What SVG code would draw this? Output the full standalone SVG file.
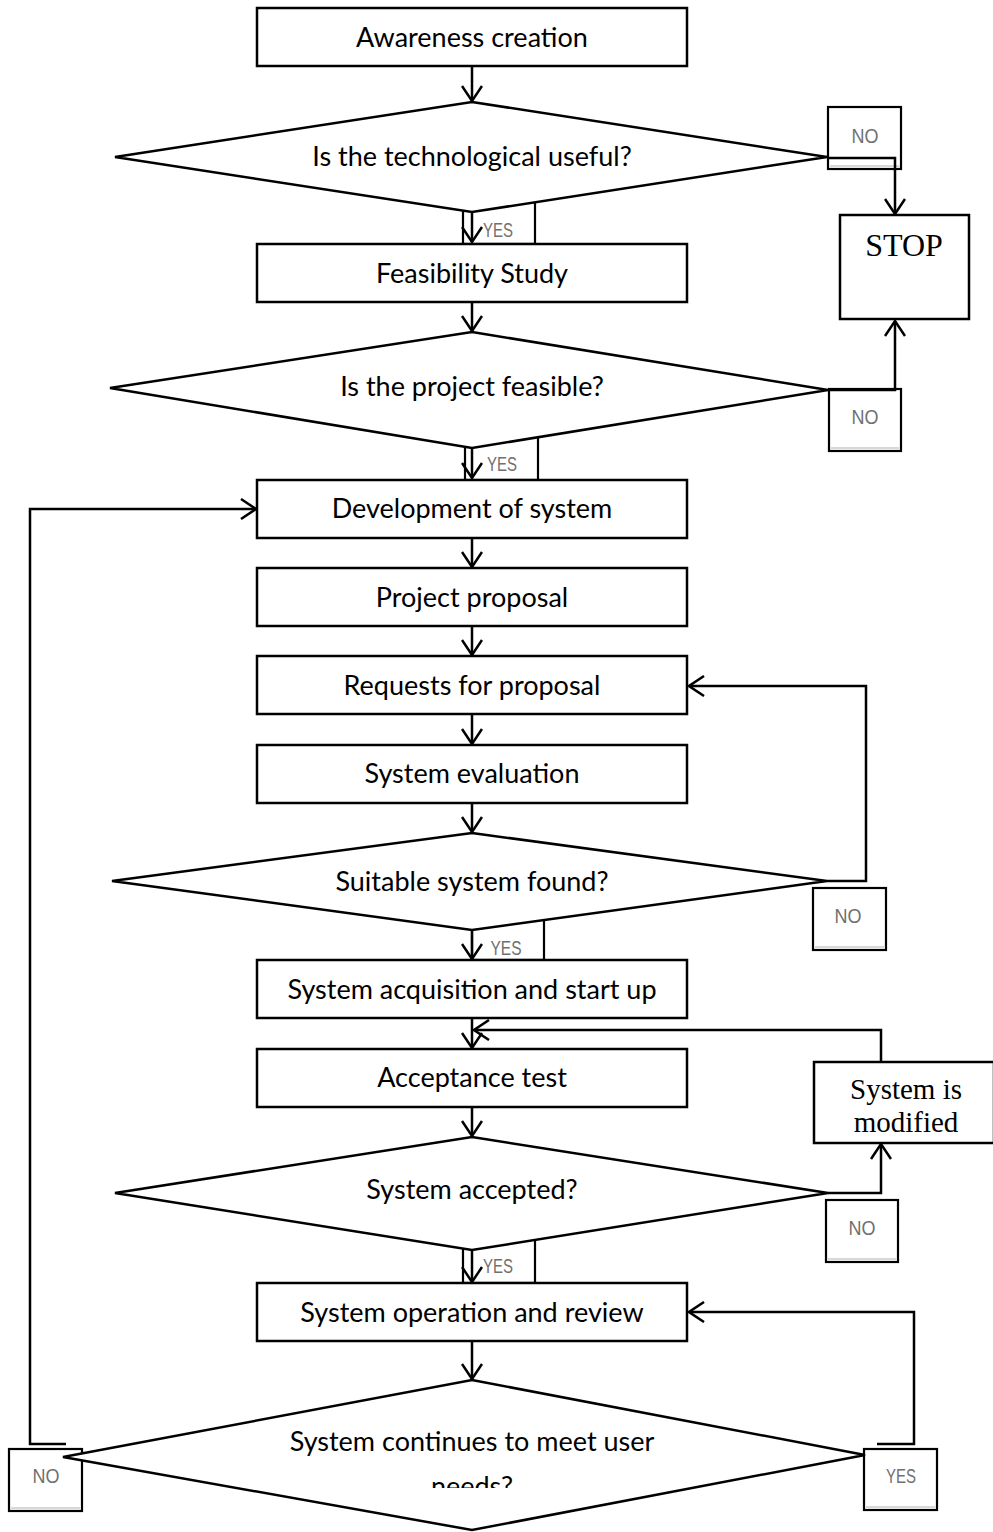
<svg xmlns="http://www.w3.org/2000/svg" width="993" height="1532" viewBox="0 0 993 1532">
  <style>
    .box { fill: #fff; stroke: #000; stroke-width: 2.5; }
    .dia { fill: #fff; stroke: #000; stroke-width: 2.5; stroke-linejoin: miter; }
    .tag { fill: #fff; stroke: #000; stroke-width: 2.2; }
    .tagshade { stroke: #d8d8d8; stroke-width: 2; }
    .txt { font-family: Lato, "Open Sans", "Liberation Sans", sans-serif; font-size: 27px; fill: #000; text-anchor: middle; }
    .serif { font-family: "Liberation Serif", "Times New Roman", serif; fill: #000; text-anchor: middle; }
    .lbl { font-family: "Liberation Sans", Arial, sans-serif; font-size: 21px; fill: #707070; text-anchor: middle; }
    .wire { fill: none; stroke: #000; stroke-width: 2.5; }
  </style>
  <defs>
    <marker id="arrow" viewBox="0 0 18 22" refX="16" refY="11" markerWidth="18" markerHeight="22" markerUnits="userSpaceOnUse" orient="auto">
      <path d="M1,1 L16,11 L1,21" fill="none" stroke="#000" stroke-width="2.5"/>
    </marker>
    <clipPath id="clipBottom">
      <rect x="0" y="0" width="993" height="1488"/>
    </clipPath>
  </defs>

  <!-- decision branch tags (drawn first so the diamonds overlap their tops) -->
  <g id="tags">
    <g id="tag-yes1"><rect class="tag" x="463" y="195" width="72" height="49"/></g>
    <g id="tag-yes2"><rect class="tag" x="465" y="430" width="73" height="50"/></g>
    <g id="tag-yes3"><rect class="tag" x="472" y="912" width="72" height="48"/></g>
    <g id="tag-yes4"><rect class="tag" x="463" y="1230" width="72" height="53"/></g>
    <g id="tag-no1"><rect class="tag" x="828" y="107" width="73" height="62"/><line class="tagshade" x1="830" y1="166" x2="899" y2="166"/></g>
    <g id="tag-no2"><rect class="tag" x="829" y="389" width="72" height="62"/><line class="tagshade" x1="831" y1="448" x2="899" y2="448"/></g>
    <g id="tag-no3"><rect class="tag" x="813" y="888" width="73" height="62"/><line class="tagshade" x1="815" y1="947" x2="884" y2="947"/></g>
    <g id="tag-no4"><rect class="tag" x="826" y="1200" width="72" height="62"/><line class="tagshade" x1="828" y1="1259" x2="896" y2="1259"/></g>
    <g id="tag-no5"><rect class="tag" x="9" y="1449" width="73" height="62"/><line class="tagshade" x1="11" y1="1508" x2="80" y2="1508"/></g>
    <g id="tag-yes5"><rect class="tag" x="864" y="1449" width="73" height="61"/><line class="tagshade" x1="866" y1="1507" x2="935" y2="1507"/></g>
  </g>

  <!-- process boxes and decisions -->
  <g id="n-awareness"><rect class="box" x="257" y="8" width="430" height="58"/><text class="txt" x="472" y="47">Awareness creation</text></g>
  <g id="d-useful"><polygon class="dia" points="472,102 827,157 472,212 115,157"/><text class="txt" x="472" y="166">Is the technological useful?</text></g>
  <g id="n-feasibility"><rect class="box" x="257" y="244" width="430" height="58"/><text class="txt" x="472" y="283">Feasibility Study</text></g>
  <g id="d-feasible"><polygon class="dia" points="472,332 828,390 472,448 110,388"/><text class="txt" x="472" y="396">Is the project feasible?</text></g>
  <g id="n-stop"><rect class="box" x="840" y="215" width="129" height="104"/><text class="serif" x="904" y="256" font-size="32">STOP</text></g>
  <g id="n-development"><rect class="box" x="257" y="480" width="430" height="58"/><text class="txt" x="472" y="518">Development of system</text></g>
  <g id="n-proposal"><rect class="box" x="257" y="568" width="430" height="58"/><text class="txt" x="472" y="607">Project proposal</text></g>
  <g id="n-requests"><rect class="box" x="257" y="656" width="430" height="58"/><text class="txt" x="472" y="695">Requests for proposal</text></g>
  <g id="n-evaluation"><rect class="box" x="257" y="745" width="430" height="58"/><text class="txt" x="472" y="783">System evaluation</text></g>
  <g id="d-suitable"><polygon class="dia" points="472,833 827,881 472,930 112,881"/><text class="txt" x="472" y="891">Suitable system found?</text></g>
  <g id="n-acquisition"><rect class="box" x="257" y="960" width="430" height="58"/><text class="txt" x="472" y="999">System acquisition and start up</text></g>
  <g id="n-acceptance"><rect class="box" x="257" y="1049" width="430" height="58"/><text class="txt" x="472" y="1087">Acceptance test</text></g>
  <g id="n-modified"><rect class="box" x="814" y="1062" width="180" height="81"/><text class="serif" x="906" y="1099" font-size="29">System is</text><text class="serif" x="906" y="1132" font-size="29">modified</text></g>
  <g id="d-accepted"><polygon class="dia" points="472,1137 828,1193 472,1250 115,1193"/><text class="txt" x="472" y="1199">System accepted?</text></g>
  <g id="n-operation"><rect class="box" x="257" y="1283" width="430" height="58"/><text class="txt" x="472" y="1322">System operation and review</text></g>
  <g id="d-continues"><polygon class="dia" points="472,1380 865,1455 472,1530 63,1457"/>
    <text class="txt" x="472" y="1451">System continues to meet user</text>
    <text class="txt" x="472" y="1496" clip-path="url(#clipBottom)">needs?</text>
  </g>

  <!-- connectors -->
  <g id="connectors">
    <line class="wire" x1="472" y1="66" x2="472" y2="101" marker-end="url(#arrow)"/>
    <line class="wire" x1="472" y1="212" x2="472" y2="242" marker-end="url(#arrow)"/>
    <line class="wire" x1="472" y1="302" x2="472" y2="331" marker-end="url(#arrow)"/>
    <line class="wire" x1="472" y1="448" x2="472" y2="478" marker-end="url(#arrow)"/>
    <line class="wire" x1="472" y1="538" x2="472" y2="567" marker-end="url(#arrow)"/>
    <line class="wire" x1="472" y1="626" x2="472" y2="655" marker-end="url(#arrow)"/>
    <line class="wire" x1="472" y1="714" x2="472" y2="744" marker-end="url(#arrow)"/>
    <line class="wire" x1="472" y1="803" x2="472" y2="832" marker-end="url(#arrow)"/>
    <line class="wire" x1="472" y1="930" x2="472" y2="959" marker-end="url(#arrow)"/>
    <line class="wire" x1="472" y1="1018" x2="472" y2="1048" marker-end="url(#arrow)"/>
    <line class="wire" x1="472" y1="1107" x2="472" y2="1136" marker-end="url(#arrow)"/>
    <line class="wire" x1="472" y1="1250" x2="472" y2="1282" marker-end="url(#arrow)"/>
    <line class="wire" x1="472" y1="1341" x2="472" y2="1379" marker-end="url(#arrow)"/>
    <!-- NO / YES branches -->
    <polyline class="wire" points="827,158 895,158 895,214" marker-end="url(#arrow)"/>
    <polyline class="wire" points="828,390 895,390 895,321" marker-end="url(#arrow)"/>
    <polyline class="wire" points="827,881 866,881 866,686 689,686" marker-end="url(#arrow)"/>
    <polyline class="wire" points="828,1193 881,1193 881,1144" marker-end="url(#arrow)"/>
    <polyline class="wire" points="881,1062 881,1030 474,1030" marker-end="url(#arrow)"/>
    <polyline class="wire" points="66,1444 30,1444 30,509 256,509" marker-end="url(#arrow)"/>
    <polyline class="wire" points="877,1444 914,1444 914,1312 689,1312" marker-end="url(#arrow)"/>
  </g>

  <!-- branch labels -->
  <g id="labels">
    <text class="lbl" x="498" y="237" textLength="30" lengthAdjust="spacingAndGlyphs">YES</text>
    <text class="lbl" x="502" y="471" textLength="30" lengthAdjust="spacingAndGlyphs">YES</text>
    <text class="lbl" x="506" y="955" textLength="31" lengthAdjust="spacingAndGlyphs">YES</text>
    <text class="lbl" x="498" y="1273" textLength="30" lengthAdjust="spacingAndGlyphs">YES</text>
    <text class="lbl" x="865" y="143" textLength="27" lengthAdjust="spacingAndGlyphs">NO</text>
    <text class="lbl" x="865" y="424" textLength="27" lengthAdjust="spacingAndGlyphs">NO</text>
    <text class="lbl" x="848" y="923" textLength="27" lengthAdjust="spacingAndGlyphs">NO</text>
    <text class="lbl" x="862" y="1235" textLength="27" lengthAdjust="spacingAndGlyphs">NO</text>
    <text class="lbl" x="46" y="1483" textLength="27" lengthAdjust="spacingAndGlyphs">NO</text>
    <text class="lbl" x="901" y="1483" textLength="30" lengthAdjust="spacingAndGlyphs">YES</text>
  </g>
</svg>
